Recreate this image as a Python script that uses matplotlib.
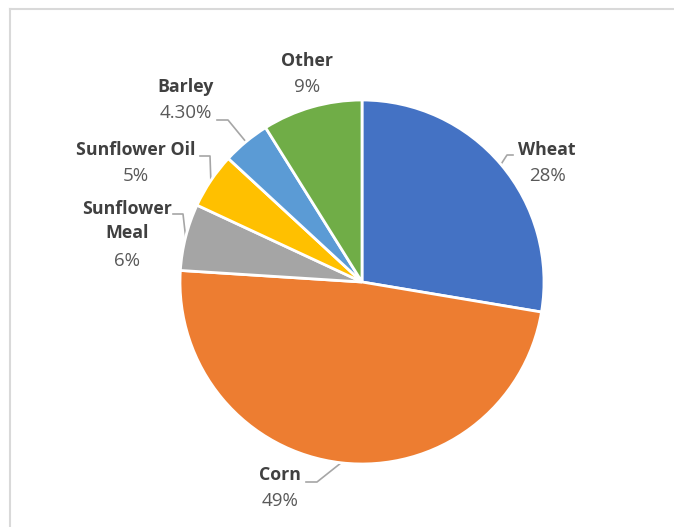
import numpy as np
import matplotlib
matplotlib.use("Agg")
import matplotlib.pyplot as plt
from matplotlib.lines import Line2D

# chart data (clockwise from 12 o'clock)
categories = ["Wheat", "Corn", "Sunflower\nMeal", "Sunflower Oil", "Barley", "Other"]
shares = [28, 49, 6, 5, 4.3, 9]
pct_labels = ["28%", "49%", "6%", "5%", "4.30%", "9%"]
colors = ["#4472C4", "#ED7D31", "#A5A5A5", "#FFC000", "#5B9BD5", "#70AD47"]

W, H = 674, 527
CX, CY, R = 362, 282, 182  # pie centre / radius in pixels


def px(x, y):
    """pixel position -> data coords of the pie axes (radius 1)."""
    return (x - CX) / R, (CY - y) / R


# label layout: name centre, percent centre, leader elbow (pixels)
layout = {
    "Wheat": ((547, 150), (547, 176), [(513, 155), (507, 155)]),
    "Corn": ((280, 475), (280, 501), [(306, 482), (317, 482)]),
    "Sunflower\nMeal": ((127, 221), (127, 261), [(173, 214), (183, 214)]),
    "Sunflower Oil": ((136, 150), (136, 176), [(200, 156), (210, 156)]),
    "Barley": ((186, 87), (186, 113), [(217, 120), (228, 120)]),
    "Other": ((307, 61), (307, 87), None),
}

plt.rcParams["font.family"] = ["Open Sans", "DejaVu Sans"]

fig = plt.figure(figsize=(W / 100, H / 100), dpi=100)
ax = fig.add_axes([(CX - R) / W, (H - CY - R) / H, 2 * R / W, 2 * R / H])

wedges, _ = ax.pie(shares, colors=colors, startangle=90, counterclock=False,
                   radius=1, wedgeprops=dict(edgecolor="white", linewidth=2))
ax.set_xlim(-1, 1)
ax.set_ylim(-1, 1)
ax.axis("off")
for w in wedges:
    w.set_clip_on(False)

for w, name, pct in zip(wedges, categories, pct_labels):
    name_xy, pct_xy, elbow = layout[name]
    ax.text(*px(*name_xy), name, ha="center", va="center", fontsize=12.8,
            fontweight="bold", color="#404040", linespacing=1.45, clip_on=False)
    ax.text(*px(*pct_xy), pct, ha="center", va="center", fontsize=13.5,
            color="#595959", clip_on=False)
    if elbow:
        mid = np.deg2rad((w.theta1 + w.theta2) / 2)
        pts = [px(*p) for p in elbow] + [(np.cos(mid), np.sin(mid))]
        xs, ys = zip(*pts)
        ax.plot(xs, ys, color="#A6A6A6", lw=1.2, clip_on=False, zorder=0.5)

# chart area frame (cropped at right / bottom)
fig.add_artist(Line2D([9.5 / W, 1], [1 - 8.5 / H] * 2, color="#D9D9D9", lw=1.5))
fig.add_artist(Line2D([9.5 / W] * 2, [0, 1 - 8.5 / H], color="#D9D9D9", lw=1.5))

fig.savefig("out.png", dpi=100)
